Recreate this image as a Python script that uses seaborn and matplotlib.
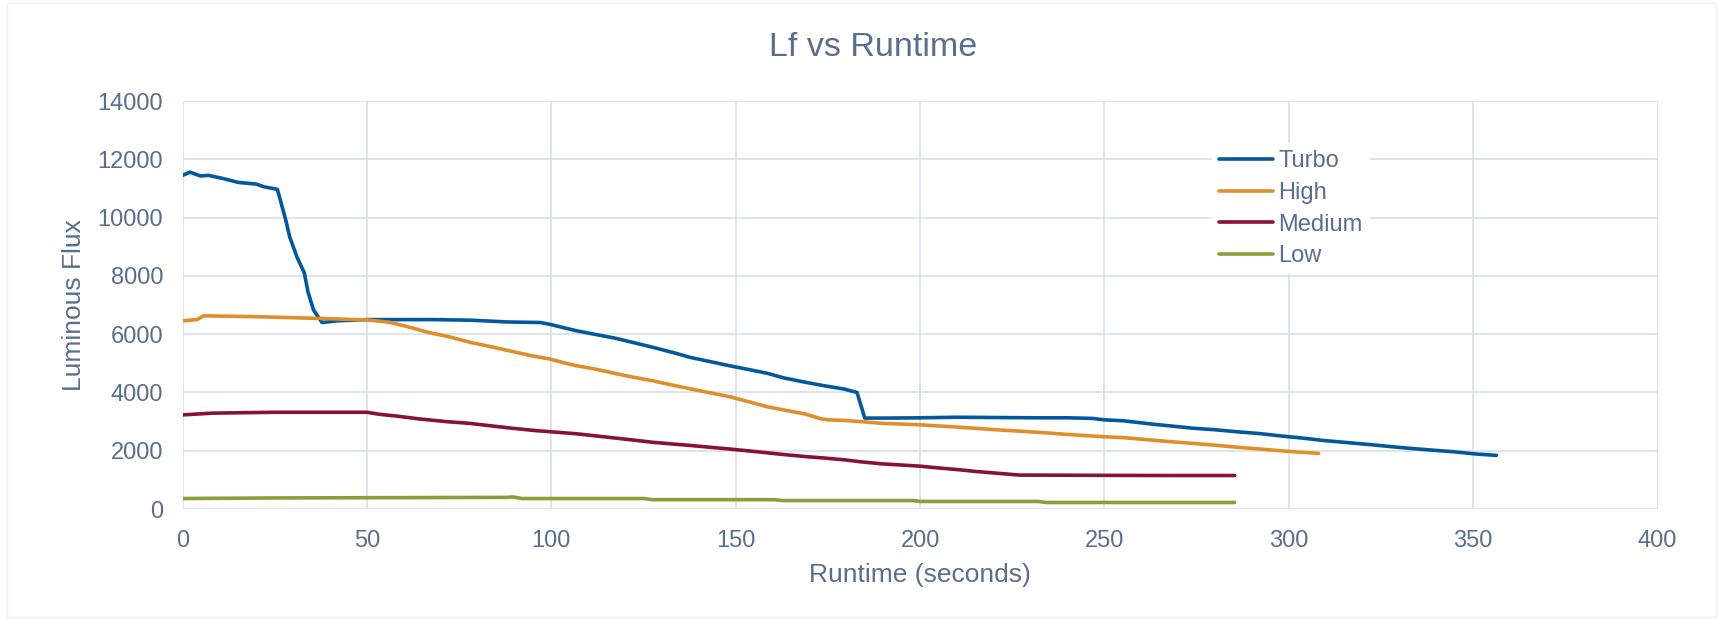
import numpy as np
import pandas as pd
import matplotlib
matplotlib.use("Agg")
import matplotlib.pyplot as plt
import seaborn as sns
from matplotlib.patches import Rectangle

# ---------------- data ----------------
turbo_t = [0, 2, 4.8, 7, 11, 15, 20, 22, 25.7, 26.5, 28, 29, 31, 33, 34, 35.5, 37.8,
           42, 50, 58, 68, 78, 88, 97, 99.5, 106.7, 112, 117, 122, 127.5, 133, 137.8,
           143, 148.2, 153, 158.5, 163, 168.9, 174, 179.3, 182.9, 185, 190, 200, 210,
           220, 232, 240, 246.6, 250, 255, 262.5, 268, 274.2, 280, 286, 292, 297.7,
           304, 309.5, 315, 321.2, 327, 333, 339, 344.7, 350.6, 356.3]
turbo_v = [11450, 11560, 11430, 11450, 11340, 11210, 11150, 11060, 10970, 10600, 9900,
           9350, 8650, 8100, 7450, 6830, 6400, 6460, 6500, 6500, 6500, 6480, 6420, 6400,
           6340, 6120, 5990, 5870, 5720, 5550, 5370, 5200, 5060, 4920, 4800, 4660, 4500,
           4350, 4230, 4120, 4000, 3120, 3120, 3130, 3150, 3140, 3130, 3130, 3110, 3060,
           3030, 2920, 2850, 2770, 2720, 2650, 2590, 2510, 2430, 2350, 2290, 2220, 2150,
           2080, 2020, 1965, 1890, 1840]

high_t = [0, 3.9, 5.7, 20, 37, 50, 56, 60, 67, 72, 78, 84, 90, 95, 99.5, 104, 106.7,
          112, 117, 122, 127.5, 133, 137.8, 143, 148.2, 153, 158.5, 163, 168.9, 173,
          175.1, 179.3, 185, 189.6, 200, 210.4, 220.7, 231.1, 240, 248.5, 255, 262.5,
          268, 274.2, 280, 286, 292, 297.7, 303, 308.1]
high_v = [6460, 6500, 6630, 6600, 6540, 6490, 6410, 6290, 6050, 5920, 5720, 5560, 5390,
          5250, 5150, 5000, 4920, 4800, 4660, 4530, 4400, 4250, 4120, 3990, 3860, 3700,
          3510, 3400, 3260, 3100, 3060, 3040, 2990, 2940, 2890, 2810, 2720, 2640, 2560,
          2490, 2450, 2370, 2310, 2250, 2190, 2120, 2060, 2000, 1950, 1910]

medium_t = [0, 8, 25, 50, 53.4, 58, 64.3, 71.5, 77.8, 83.2, 89.5, 95.8, 101, 107, 112,
            117, 122, 127.5, 133, 137.8, 143, 148.2, 153, 158.5, 163, 168.9, 174, 179.3,
            184, 189.6, 195, 200, 205, 210.4, 215, 220.7, 226.9, 240, 250, 265, 285.3]
medium_v = [3230, 3290, 3320, 3320, 3250, 3190, 3090, 3000, 2940, 2860, 2770, 2690, 2640,
            2580, 2510, 2440, 2370, 2290, 2230, 2180, 2120, 2060, 2000, 1930, 1870, 1800,
            1750, 1690, 1620, 1550, 1510, 1470, 1410, 1350, 1290, 1230, 1165, 1160, 1155,
            1150, 1150]

low_t = [0, 26, 88, 89.5, 92, 125, 127.5, 160.5, 162.7, 198, 200, 232, 234.2, 285.3]
low_v = [360, 380, 400, 415, 360, 360, 320, 320, 290, 290, 260, 260, 225, 225]

series_names = ["Turbo", "High", "Medium", "Low"]
colors = ["#03579B", "#E08E2B", "#86123A", "#87A03A"]

frames = []
for name, t, v in zip(series_names, [turbo_t, high_t, medium_t, low_t],
                      [turbo_v, high_v, medium_v, low_v]):
    frames.append(pd.DataFrame({"Runtime": t, "Flux": v, "Mode": name}))
df = pd.concat(frames, ignore_index=True)

# ---------------- style ----------------
sns.set_theme(style="white")
plt.rcParams["font.family"] = ["Liberation Sans", "DejaVu Sans"]
text_color = "#596E8E"
grid_color = "#D9DEE7"

fig = plt.figure(figsize=(17.23, 6.2), dpi=100)
ax = fig.add_axes([0.106, 0.179, 0.962 - 0.106, 0.837 - 0.179])

sns.lineplot(data=df, x="Runtime", y="Flux", hue="Mode", hue_order=series_names,
             palette=colors, sort=False, estimator=None, linewidth=2.6, ax=ax,
             legend=True)

ax.set_xlim(0, 400)
ax.set_ylim(0, 14000)
ax.set_xticks(np.arange(0, 401, 50))
ax.set_yticks(np.arange(0, 14001, 2000))
ax.grid(True, color=grid_color, linewidth=1.2)
ax.set_axisbelow(True)
for s in ax.spines.values():
    s.set_visible(False)
ax.tick_params(axis="both", length=0, labelsize=17, colors=text_color)
ax.tick_params(axis="y", pad=14)
ax.tick_params(axis="x", pad=15)
ax.set_xlabel("")
ax.set_ylabel("")

fig.text(0.534, 0.073, "Runtime (seconds)", ha="center", va="center",
         fontsize=19, color=text_color)
fig.text(0.043, 0.508, "Luminous Flux", ha="center", va="center", rotation=90,
         fontsize=19, color=text_color)
fig.text(0.507, 0.924, "Lf vs Runtime", ha="center", va="center",
         fontsize=24.5, color=text_color)

handles, labels = ax.get_legend_handles_labels()
leg = ax.legend(handles, labels, loc="upper left",
                bbox_to_anchor=(0.698, 0.897), frameon=True, fancybox=False,
                facecolor="white", edgecolor="none", framealpha=1,
                fontsize=17, handlelength=2.3, handletextpad=0.2,
                labelspacing=0.41, borderpad=0.3, borderaxespad=0)
for txt in leg.get_texts():
    txt.set_color(text_color)
for ln in leg.get_lines():
    ln.set_linewidth(2.6)
    ln.set_solid_capstyle("round")

fig.patches.append(Rectangle((7 / 1723, 3 / 620), 1709 / 1723, 614 / 620,
                             transform=fig.transFigure, fill=False,
                             edgecolor="#EFEFEF", linewidth=1))

fig.savefig("out.png", dpi=100, facecolor="white")
